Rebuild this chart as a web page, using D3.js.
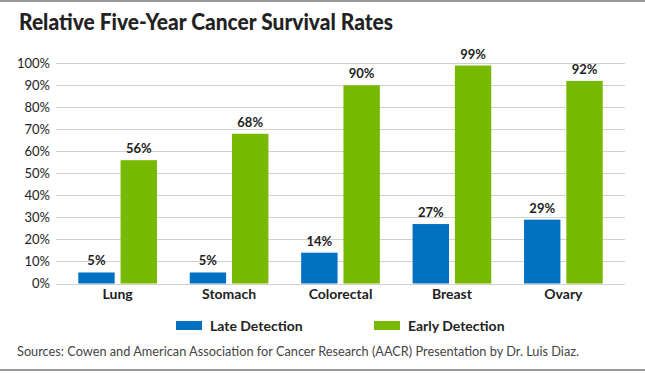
<!DOCTYPE html>
<html>
<head>
<meta charset="utf-8">
<script src="https://cdn.jsdelivr.net/npm/d3@7"></script>
<style>
  body { margin: 0; background: #fff; }
  text { font-family: Lato, "Noto Sans", sans-serif; fill: #222; }
</style>
</head>
<body>
<script>
// chart data
var categories = ["Lung", "Stomach", "Colorectal", "Breast", "Ovary"];
var series = ["Late Detection", "Early Detection"];
var lateValues = [5, 5, 14, 27, 29];
var earlyValues = [56, 68, 90, 99, 92];
var yTicks = [0, 10, 20, 30, 40, 50, 60, 70, 80, 90, 100];
var colors = ["#0070c0", "#77b900"];

var width = 645, height = 373;

var rows = categories.map(function(c, i) {
  return { cat: c, values: [lateValues[i], earlyValues[i]] };
});

var svg = d3.select("body").append("svg")
    .attr("width", width)
    .attr("height", height);

// frame lines top and bottom
svg.append("line").attr("x1", 0).attr("x2", width).attr("y1", 1).attr("y2", 1)
    .attr("stroke", "#777").attr("stroke-width", 1.5);
svg.append("line").attr("x1", 0).attr("x2", width).attr("y1", 370).attr("y2", 370)
    .attr("stroke", "#777").attr("stroke-width", 1.5);

// title
svg.append("text")
    .attr("x", 19).attr("y", 30)
    .style("font-size", "22px").style("font-weight", "900")
    .attr("textLength", 374).attr("lengthAdjust", "spacingAndGlyphs")
    .text("Relative Five-Year Cancer Survival Rates");

var y = d3.scaleLinear().domain([0, 100]).range([283.5, 63.3]);

var x0 = d3.scaleBand().domain(categories).range([56, 625])
    .paddingInner(0.294).paddingOuter(0.2);
var x1 = d3.scaleBand().domain(d3.range(series.length)).range([0, x0.bandwidth()])
    .paddingInner(0.14);

// gridlines
svg.append("g").selectAll("line")
    .data(yTicks)
  .enter().append("line")
    .attr("x1", 56).attr("x2", 625)
    .attr("y1", function(d) { return Math.round(y(d)) + 0.5; })
    .attr("y2", function(d) { return Math.round(y(d)) + 0.5; })
    .attr("stroke", "#d0d0d0").attr("stroke-width", 1);

// y axis labels
var yAxis = d3.axisLeft(y).tickValues(yTicks).tickSize(0).tickPadding(0)
    .tickFormat(function(d) { return d + "%"; });
var gy = svg.append("g").attr("transform", "translate(50,0)").call(yAxis);
gy.select(".domain").remove();
gy.selectAll("text")
    .attr("fill", "#222")
    .style("font-family", "Lato, 'Noto Sans', sans-serif")
    .style("font-size", "13px");

// bars
var groups = svg.append("g").selectAll("g")
    .data(rows)
  .enter().append("g")
    .attr("transform", function(d) { return "translate(" + x0(d.cat) + ",0)"; });

groups.selectAll("rect")
    .data(function(d) { return d.values; })
  .enter().append("rect")
    .attr("x", function(d, i) { return x1(i); })
    .attr("width", x1.bandwidth())
    .attr("y", function(d) { return y(d); })
    .attr("height", function(d) { return y(0) - y(d); })
    .attr("fill", function(d, i) { return colors[i]; });

groups.selectAll("text.val")
    .data(function(d) { return d.values; })
  .enter().append("text")
    .attr("class", "val")
    .attr("x", function(d, i) { return x1(i) + x1.bandwidth() / 2; })
    .attr("y", function(d) { return y(d) - 7; })
    .attr("text-anchor", "middle")
    .style("font-size", "13px").style("font-weight", "bold")
    .text(function(d) { return d + "%"; });

// category axis
var xAxis = d3.axisBottom(x0).tickSize(0).tickPadding(0);
var gx = svg.append("g").attr("transform", "translate(0,289)").call(xAxis);
gx.select(".domain").remove();
gx.selectAll("text")
    .attr("fill", "#222")
    .style("font-family", "Lato, 'Noto Sans', sans-serif")
    .style("font-size", "14px").style("font-weight", "bold");

// legend
var legendX = [176, 374];
var legend = svg.append("g").selectAll("g")
    .data(series)
  .enter().append("g")
    .attr("transform", function(d, i) { return "translate(" + legendX[i] + ",321)"; });
legend.append("rect")
    .attr("width", 26).attr("height", 9)
    .attr("fill", function(d, i) { return colors[i]; });
legend.append("text")
    .attr("x", 34).attr("y", 9.5)
    .style("font-size", "14px").style("font-weight", "bold")
    .text(function(d) { return d; });

// source note
svg.append("text")
    .attr("x", 17).attr("y", 356)
    .style("font-size", "13.5px").style("fill", "#444")
    .attr("textLength", 562).attr("lengthAdjust", "spacingAndGlyphs")
    .text("Sources: Cowen and American Association for Cancer Research (AACR) Presentation by Dr. Luis Diaz.");
</script>
</body>
</html>
